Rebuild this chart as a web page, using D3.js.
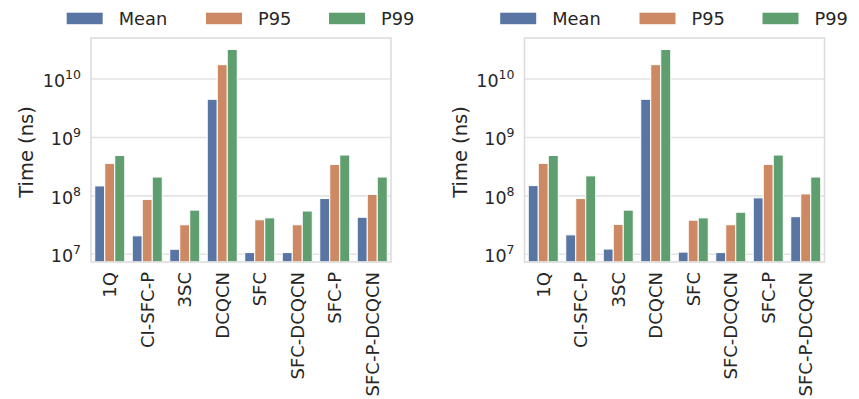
<!DOCTYPE html>
<html>
<head>
<meta charset="utf-8">
<script src="https://cdn.jsdelivr.net/npm/d3@7"></script>
<style>
  body { margin: 0; background: #fff; }
  text { font-family: "DejaVu Sans", sans-serif; fill: #262626; }
</style>
</head>
<body>
<svg id="chart" width="859" height="399"></svg>
<script>
var categories = ["1Q", "CI-SFC-P", "3SC", "DCQCN", "SFC", "SFC-DCQCN", "SFC-P", "SFC-P-DCQCN"];
var seriesNames = ["Mean", "P95", "P99"];
var colors = ["#5875a4", "#cc8963", "#5f9e6e"];

// left panel values (ns)
var leftMean = [1.48e8, 2.07e7, 1.22e7, 4.5e9, 1.07e7, 1.07e7, 9.0e7, 4.3e7];
var leftP95  = [3.6e8, 8.7e7, 3.2e7, 1.76e10, 3.9e7, 3.2e7, 3.45e8, 1.06e8];
var leftP99  = [4.9e8, 2.1e8, 5.7e7, 3.2e10, 4.2e7, 5.5e7, 5.0e8, 2.1e8];

// right panel values (ns)
var rightMean = [1.5e8, 2.15e7, 1.23e7, 4.5e9, 1.09e7, 1.07e7, 9.25e7, 4.4e7];
var rightP95  = [3.6e8, 9.0e7, 3.25e7, 1.76e10, 3.84e7, 3.2e7, 3.45e8, 1.08e8];
var rightP99  = [4.9e8, 2.2e8, 5.7e7, 3.2e10, 4.2e7, 5.25e7, 5.0e8, 2.1e8];

var yTicks = [7, 8, 9, 10];   // exponents
var yDomain = [Math.pow(10, 6.868), Math.pow(10, 10.702)];

var panels = [
  {offset: 0, series: [leftMean, leftP95, leftP99]},
  {offset: 433.5, series: [rightMean, rightP95, rightP99]}
];

var plotLeft = 91, plotTop = 38, width = 300, height = 224;
var svg = d3.select('#chart');

panels.forEach(function(p){
  var g = svg.append('g').attr('transform', "translate(" + p.offset + ",0)");

  var x = d3.scaleBand().domain(categories).range([plotLeft, plotLeft + width]).padding(0);
  var inner = d3.scaleBand().domain(seriesNames).range([0, x.bandwidth() * 0.8]);
  var y = d3.scaleLog().domain(yDomain).range([plotTop + height, plotTop]);

  // grid
  g.append('g').selectAll('line').data(yTicks).enter().append('line')
    .attr('x1', plotLeft).attr('x2', plotLeft + width)
    .attr('y1', function(d){ return y(Math.pow(10, d)); })
    .attr('y2', function(d){ return y(Math.pow(10, d)); })
    .attr('stroke', '#e3e3e3').attr('stroke-width', 1.6);

  // bars
  seriesNames.forEach(function(s, si){
    g.append('g').selectAll('rect').data(p.series[si]).enter().append('rect')
      .attr('x', function(d, i){ return x(categories[i]) + x.bandwidth() * 0.1 + inner(s); })
      .attr('y', function(d){ return y(d); })
      .attr('width', inner.bandwidth())
      .attr('height', function(d){ return plotTop + height - y(d); })
      .attr('fill', colors[si])
      .attr('stroke', '#fff').attr('stroke-width', 1);
  });

  // frame
  g.append('rect').attr('x', plotLeft).attr('y', plotTop)
    .attr('width', width).attr('height', height)
    .attr('fill', 'none').attr('stroke', '#dcdcdc').attr('stroke-width', 1.6);

  // y tick labels
  var yt = g.append('g').selectAll('text').data(yTicks).enter().append('text')
    .attr('x', plotLeft - 10)
    .attr('y', function(d){ return y(Math.pow(10, d)) + 8; })
    .attr('text-anchor', 'end')
    .style('font-size', '17.5px');
  yt.append('tspan').text('10');
  yt.append('tspan').attr('dy', -8).style('font-size', '12.5px').text(function(d){ return d; });

  // y label
  g.append('text')
    .attr('transform', "translate(" + 33 + "," + (plotTop + height / 2 + 2) + ") rotate(-90)")
    .attr('text-anchor', 'middle')
    .style('font-size', '19.5px')
    .text('Time (ns)');

  // x tick labels
  g.append('g').selectAll('text').data(categories).enter().append('text')
    .attr('transform', function(d){
      return "translate(" + (x(d) + x.bandwidth() / 2 + 6.5) + "," + (plotTop + height + 10) + ") rotate(-90)";
    })
    .attr('text-anchor', 'end')
    .style('font-size', '18px')
    .text(function(d){ return d; });

  // legend
  var legX = [66.7, 206, 329];
  var lg = g.append('g').selectAll('g').data(seriesNames).enter().append('g')
    .attr('transform', function(d, i){ return "translate(" + legX[i] + ",0)"; });
  lg.append('rect').attr('x', 0).attr('y', 12.7).attr('width', 36).attr('height', 11.5)
    .attr('fill', function(d, i){ return colors[i]; });
  lg.append('text').attr('x', 52).attr('y', 24.5)
    .style('font-size', '17.8px')
    .text(function(d){ return d; });
});
</script>
</body>
</html>
